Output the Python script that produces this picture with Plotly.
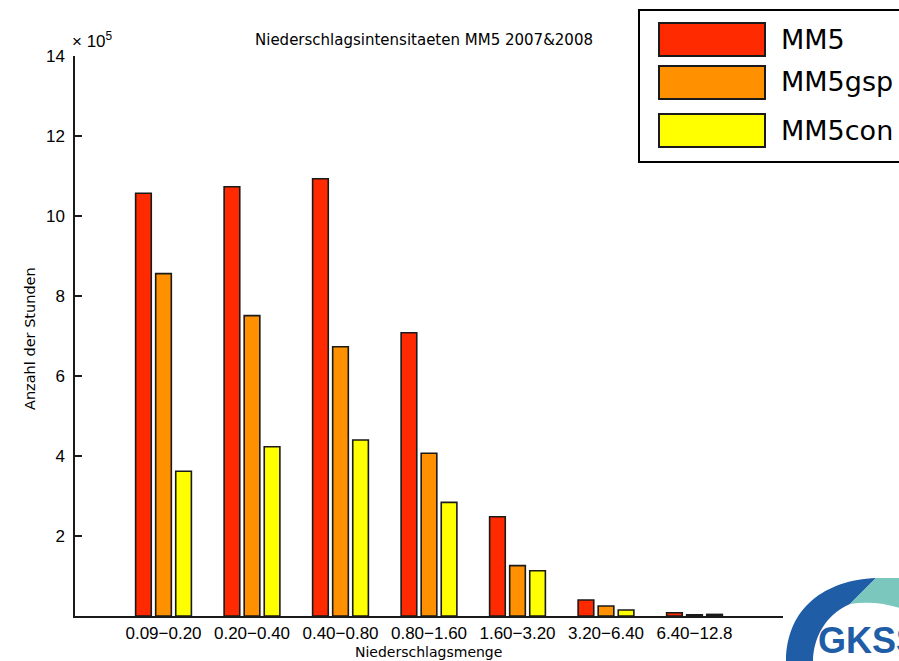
import plotly.graph_objects as go

# Precipitation-intensity classes (mm/h) and hour counts (in units of 1e5)
classes = ["0.09−0.20", "0.20−0.40", "0.40−0.80", "0.80−1.60",
           "1.60−3.20", "3.20−6.40", "6.40−12.8"]
series_names = ["MM5", "MM5gsp", "MM5con"]
mm5 = [10.57, 10.73, 10.93, 7.08, 2.48, 0.40, 0.08]
mm5gsp = [8.56, 7.51, 6.73, 4.07, 1.26, 0.25, 0.03]
mm5con = [3.62, 4.23, 4.40, 2.84, 1.13, 0.15, 0.04]
series_values = [mm5, mm5gsp, mm5con]
colors = ["#FF2A00", "#FF9100", "#FFFF00"]
y_ticks = [2, 4, 6, 8, 10, 12, 14]

W, H = 899, 661
L, R, T, B = 75, 116, 56, 45
PW, PH = W - L - R, H - T - B


def px(x):
    return (x - L) / PW


def py(y):
    return (H - B - y) / PH


fig = go.Figure()
for name, vals, col in zip(series_names, series_values, colors):
    fig.add_trace(go.Bar(
        x=classes, y=vals, name=name,
        marker=dict(color=col, line=dict(color="#1a1a1a", width=1.6)),
        showlegend=False,
    ))

shapes = []
annotations = []

# Legend box with large swatches
shapes.append(dict(type="rect", xref="paper", yref="paper",
                   x0=px(639), x1=px(910), y0=py(162), y1=py(10),
                   line=dict(color="black", width=2), fillcolor="white",
                   layer="above"))
sw_top = [23, 66, 114]
for i, (name, col) in enumerate(zip(series_names, colors)):
    y0 = sw_top[i]
    shapes.append(dict(type="rect", xref="paper", yref="paper",
                       x0=px(659), x1=px(765), y0=py(y0 + 33), y1=py(y0),
                       line=dict(color="#1a1a1a", width=2), fillcolor=col,
                       layer="above"))
    annotations.append(dict(text=name, xref="paper", yref="paper",
                            x=px(779), y=py(y0 + 16), xanchor="left",
                            yanchor="middle", showarrow=False,
                            font=dict(family="DejaVu Sans", size=27,
                                      color="black")))

# Logo in the lower right corner
def path(points_cmds):
    out = []
    for cmd, pts in points_cmds:
        coords = " ".join(f"{px(x):.5f},{py(y):.5f}" for x, y in pts)
        out.append(f"{cmd} {coords}")
    return " ".join(out) + " Z"


blue_arc = path([
    ("M", [(786, 662)]),
    ("C", [(786, 608), (825, 580), (876, 578)]),
    ("L", [(850, 604)]),
    ("C", [(824, 615), (813, 640), (813, 662)]),
])
teal_arc = path([
    ("M", [(876, 578)]),
    ("L", [(905, 578)]),
    ("L", [(905, 610)]),
    ("C", [(888, 603), (868, 601), (850, 604)]),
])
shapes.append(dict(type="path", xref="paper", yref="paper", path=blue_arc,
                   fillcolor="#1F5DA6", line=dict(width=0), layer="above"))
shapes.append(dict(type="path", xref="paper", yref="paper", path=teal_arc,
                   fillcolor="#7CC7BD", line=dict(width=0), layer="above"))
annotations.append(dict(text="<b>GKSS</b>", xref="paper", yref="paper",
                        x=px(816), y=py(640), xanchor="left", yanchor="middle",
                        showarrow=False,
                        font=dict(family="Liberation Sans", size=36,
                                  color="#1F5DA6")))

# Title, axis titles and exponent label
annotations.append(dict(text="Niederschlagsintensitaeten MM5 2007&2008",
                        xref="paper", yref="paper", x=px(424), y=py(40),
                        xanchor="center", yanchor="middle", showarrow=False,
                        font=dict(family="DejaVu Sans", size=15, color="black")))
annotations.append(dict(text="Niederschlagsmenge", xref="paper", yref="paper",
                        x=px(428), y=py(652), xanchor="center",
                        yanchor="middle", showarrow=False,
                        font=dict(family="DejaVu Sans", size=14, color="black")))
annotations.append(dict(text="Anzahl der Stunden", xref="paper", yref="paper",
                        x=px(30), y=py(339), xanchor="center",
                        yanchor="middle", textangle=-90, showarrow=False,
                        font=dict(family="DejaVu Sans", size=14.5, color="black")))
annotations.append(dict(text="× 10<sup>5</sup>", xref="paper", yref="paper",
                        x=px(70), y=py(40), xanchor="left", yanchor="middle",
                        showarrow=False,
                        font=dict(family="Liberation Sans", size=17,
                                  color="black")))

fig.update_layout(
    width=W, height=H,
    margin=dict(l=L, r=R, t=T, b=B, pad=0),
    paper_bgcolor="white", plot_bgcolor="white",
    barmode="group", bargap=0.32, bargroupgap=0.22,
    shapes=shapes, annotations=annotations,
    font=dict(family="Liberation Sans", size=17, color="black"),
    xaxis=dict(range=[-1, 7], showline=True, linecolor="#1a1a1a",
               linewidth=1.5, ticks="", showgrid=False, zeroline=False,
               tickfont=dict(family="Liberation Sans", size=17),
               ticklabelstandoff=1, fixedrange=True),
    yaxis=dict(range=[0, 14], tickvals=y_ticks, ticks="inside", ticklen=7,
               tickwidth=1.5, tickcolor="#1a1a1a", showline=True,
               linecolor="#1a1a1a", linewidth=1.5, showgrid=False,
               zeroline=False, tickfont=dict(family="Liberation Sans", size=17),
               ticklabelstandoff=5, fixedrange=True),
)

fig.write_html("out.html")
